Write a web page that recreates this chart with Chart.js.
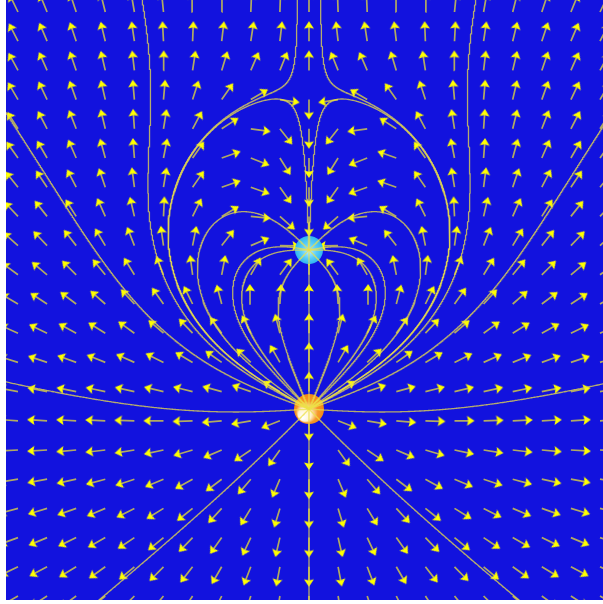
<!DOCTYPE html>
<html>
<head>
<meta charset="utf-8">
<script src="https://cdn.jsdelivr.net/npm/chart.js@4.4.1/dist/chart.umd.min.js"></script>
<style>
  html, body { margin: 0; padding: 0; background: #ffffff; }
  #wrap { width: 603px; height: 604px; }
</style>
</head>
<body>
<div id="wrap"><canvas id="field" width="603" height="604"></canvas></div>
<script>
// Point charges (grid units) and their strengths
const chargeX = [0, 0];
const chargeY = [-3.6, 1.85];
const chargeQ = [4, -1];

// Sample points for the direction arrows
const gridX = [-10, -9, -8, -7, -6, -5, -4, -3, -2, -1, 0, 1, 2, 3, 4, 5, 6, 7, 8, 9, 10];
const gridY = [10, 9, 8, 7, 6, 5, 4, 3, 2, 1, 0, -1, -2, -3, -4, -5, -6, -7, -8, -9, -10];

// Field-line seeds, degrees measured from straight up (each used on both sides)
const seedsFromPositive = [0, 45, 60.0002, 62.1, 69.8, 93.5, 135, 180];
const seedsIntoNegative = [2, 45, 90, 135];

// Visible window of the field (grid units)
const X_MIN = -10.412, X_MAX = 10.103;
const Y_MIN = -10.137, Y_MAX = 10.411;

const POS = 0, NEG = 1;

function field(x, y) {
  let ex = 0, ey = 0;
  for (let i = 0; i < chargeQ.length; i++) {
    const dx = x - chargeX[i], dy = y - chargeY[i];
    const r2 = dx * dx + dy * dy;
    const r3 = r2 * Math.sqrt(r2);
    ex += chargeQ[i] * dx / r3;
    ey += chargeQ[i] * dy / r3;
  }
  return [ex, ey];
}

function unitDir(x, y, sign) {
  const [ex, ey] = field(x, y);
  const m = Math.hypot(ex, ey) || 1;
  return [sign * ex / m, sign * ey / m];
}

// Follow a field line with RK4 steps along the normalised field
function trace(src, target, angleDeg, sign) {
  const a = angleDeg * Math.PI / 180;
  let x = chargeX[src] + 0.2 * Math.sin(a);
  let y = chargeY[src] + 0.2 * Math.cos(a);
  const pts = [{ x: chargeX[src], y: chargeY[src] }, { x, y }];
  const h = 0.02;
  for (let n = 0; n < 8000; n++) {
    const k1 = unitDir(x, y, sign);
    const k2 = unitDir(x + h / 2 * k1[0], y + h / 2 * k1[1], sign);
    const k3 = unitDir(x + h / 2 * k2[0], y + h / 2 * k2[1], sign);
    const k4 = unitDir(x + h * k3[0], y + h * k3[1], sign);
    x += h / 6 * (k1[0] + 2 * k2[0] + 2 * k3[0] + k4[0]);
    y += h / 6 * (k1[1] + 2 * k2[1] + 2 * k3[1] + k4[1]);
    pts.push({ x, y });
    if (Math.hypot(x - chargeX[target], y - chargeY[target]) < 0.15) {
      pts.push({ x: chargeX[target], y: chargeY[target] });
      break;
    }
    if (x < X_MIN - 0.5 || x > X_MAX + 0.5 || y < Y_MIN - 0.5 || y > Y_MAX + 0.5) break;
  }
  return pts;
}

const lineSets = [];
const bothSides = list => list.flatMap(a => (a === 0 || a === 180) ? [a] : [a, -a]);
bothSides(seedsFromPositive).forEach(a => lineSets.push(trace(POS, NEG, a, 1)));
bothSides(seedsIntoNegative).forEach(a => lineSets.push(trace(NEG, POS, a, -1)));

// Arrows: tail at each grid point, fixed screen length, pointing along E
const SX = 29.1, SY = 29.2;          // pixels per grid unit
const ARROW_LEN = 20, HEAD_AHEAD = 5;
const shafts = [], heads = [], headRot = [];
gridY.forEach(gy => {
  gridX.forEach(gx => {
    const [ex, ey] = field(gx, gy);
    let a = ex * SX, b = -ey * SY;
    const m = Math.hypot(a, b) || 1;
    a /= m; b /= m;
    const hx = gx + (ARROW_LEN - HEAD_AHEAD) * a / SX;
    const hy = gy - (ARROW_LEN - HEAD_AHEAD) * b / SY;
    shafts.push({ x: gx, y: gy }, { x: hx, y: hy }, { x: null, y: null });
    heads.push({ x: hx, y: hy });
    headRot.push(Math.atan2(a, -b) * 180 / Math.PI);
  });
});

// Arrowhead sprite: tip pointing up, centred on the canvas
const headSprite = document.createElement('canvas');
headSprite.width = 12; headSprite.height = 12;
(() => {
  const g = headSprite.getContext('2d');
  g.fillStyle = '#ffff00';
  g.beginPath();
  g.moveTo(6, 1);
  g.lineTo(11, 8.5);
  g.lineTo(6, 7.2);
  g.lineTo(1, 8.5);
  g.closePath();
  g.fill();
})();

function chargeFill(ctx) {
  const chart = ctx.chart;
  const fallback = ctx.dataIndex === POS ? '#f08a10' : '#50c8f4';
  if (!ctx.parsed || !chart.chartArea) return fallback;
  const cx = chart.scales.x.getPixelForValue(ctx.parsed.x);
  const cy = chart.scales.y.getPixelForValue(ctx.parsed.y);
  if (!isFinite(cx) || !isFinite(cy)) return fallback;
  const c = chart.ctx;
  if (ctx.dataIndex === POS) {
    const g = c.createRadialGradient(cx - 7, cy + 9, 1, cx + 2, cy - 2, 19);
    g.addColorStop(0, '#ffffff');
    g.addColorStop(0.3, '#fff2cc');
    g.addColorStop(0.55, '#f6982a');
    g.addColorStop(1, '#ec7a08');
    return g;
  }
  const g = c.createRadialGradient(cx, cy + 2, 1, cx, cy, 14);
  g.addColorStop(0, '#a8e8ff');
  g.addColorStop(0.5, '#5ccdf8');
  g.addColorStop(1, '#30b6f0');
  return g;
}

const backdrop = {
  id: 'backdrop',
  beforeDraw(chart) {
    const { ctx, chartArea: a } = chart;
    ctx.save();
    ctx.fillStyle = '#ffffff';
    ctx.fillRect(0, 0, chart.width, chart.height);
    ctx.fillStyle = 'rgb(18,18,222)';
    ctx.fillRect(a.left, a.top, a.right - a.left, a.bottom - a.top);
    ctx.restore();
  }
};

const datasets = [];
lineSets.forEach(pts => datasets.push({
  type: 'line', data: pts, borderColor: 'rgba(236,224,72,0.75)', borderWidth: 1.3,
  pointRadius: 0, tension: 0, fill: false, order: 0
}));
datasets.push({
  type: 'scatter',
  data: chargeX.map((x, i) => ({ x, y: chargeY[i] })),
  pointRadius: [15, 14], pointStyle: 'circle',
  backgroundColor: chargeFill, borderWidth: 0, order: 1
});
datasets.push({
  type: 'scatter', data: heads, pointStyle: headSprite, pointRadius: 6,
  rotation: headRot, order: 2
});
datasets.push({
  type: 'line', data: shafts, borderColor: 'rgba(238,228,50,0.72)', borderWidth: 1.7,
  pointRadius: 0, spanGaps: false, tension: 0, fill: false, order: 3
});

new Chart(document.getElementById('field'), {
  type: 'scatter',
  data: { datasets },
  options: {
    responsive: false,
    animation: false,
    devicePixelRatio: 1,
    events: [],
    layout: { autoPadding: false, padding: { left: 6, right: 0, top: 0, bottom: 4 } },
    scales: {
      x: { type: 'linear', min: X_MIN, max: X_MAX, display: false },
      y: { type: 'linear', min: Y_MIN, max: Y_MAX, display: false }
    },
    plugins: { legend: { display: false }, tooltip: { enabled: false } }
  },
  plugins: [backdrop]
});
</script>
</body>
</html>
